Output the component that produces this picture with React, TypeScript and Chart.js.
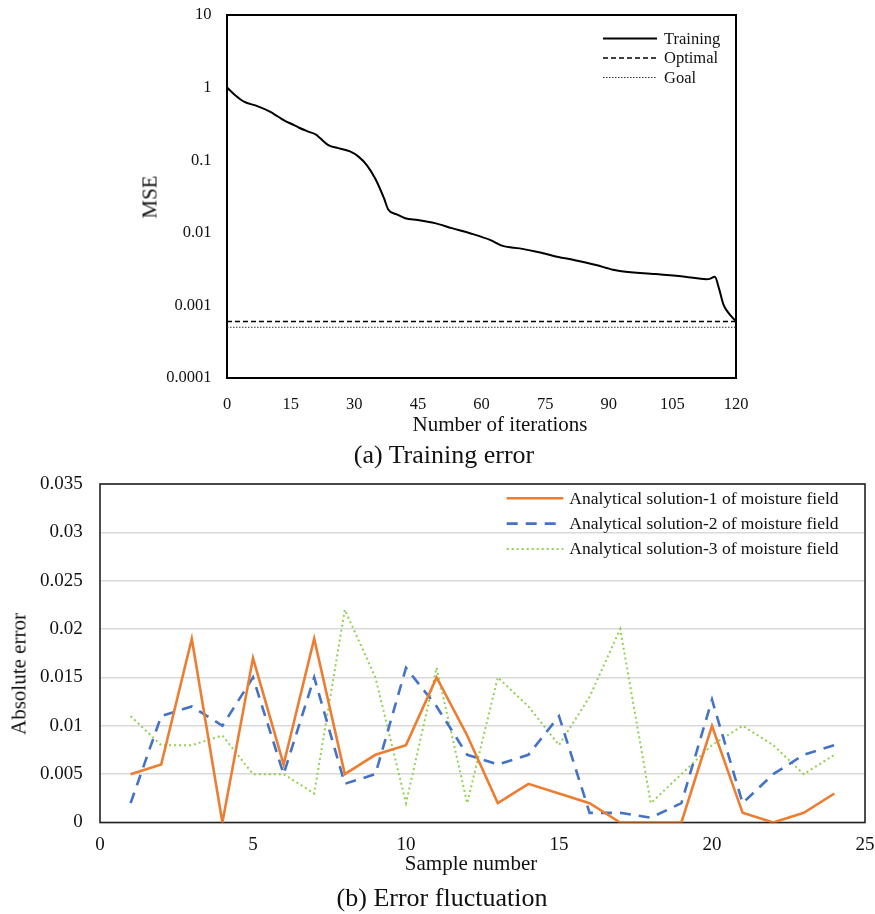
import React, { useEffect, useRef } from "react";
import { Chart, registerables } from "chart.js";

Chart.register(...registerables);

// ---------- (a) Training error ----------
const trainingIterations = [0, 2, 4, 7, 10, 12, 14, 15, 17, 19, 21, 22, 24, 26, 29, 31, 33, 35, 37, 38, 40, 42, 45, 49, 53, 58, 62, 65, 69, 73, 77, 82, 87, 91, 93, 101, 108, 113, 114, 115, 116, 117, 118, 120];
const trainingMse = [1.0, 0.78, 0.64, 0.56, 0.47, 0.4, 0.34, 0.32, 0.28, 0.25, 0.225, 0.2, 0.16, 0.148, 0.132, 0.112, 0.085, 0.055, 0.03, 0.021, 0.018, 0.0159, 0.015, 0.0136, 0.0116, 0.0096, 0.008, 0.0066, 0.0061, 0.0055, 0.0048, 0.0042, 0.0036, 0.0031, 0.00296, 0.0027, 0.00248, 0.00229, 0.00234, 0.00248, 0.0017, 0.00104, 0.00082, 0.0006];
const lineRangeIterations = [0, 120];
const optimalMse = 0.0006;
const goalMse = 0.0005;
const iterationTicks = [0, 15, 30, 45, 60, 75, 90, 105, 120];
const mseTicks = [0.0001, 0.001, 0.01, 0.1, 1, 10];
const mseTickLabels = ["0.0001", "0.001", "0.01", "0.1", "1", "10"];
const topLegendLabels = ["Training", "Optimal", "Goal"];

// ---------- (b) Error fluctuation ----------
const sampleNumbers = [1, 2, 3, 4, 5, 6, 7, 8, 9, 10, 11, 12, 13, 14, 15, 16, 17, 18, 19, 20, 21, 22, 23, 24];
const solution1Error = [0.005, 0.006, 0.019, 0, 0.017, 0.006, 0.019, 0.005, 0.007, 0.008, 0.015, 0.009, 0.002, 0.004, 0.003, 0.002, 0, 0, 0, 0.01, 0.001, 0, 0.001, 0.003];
const solution2Error = [0.002, 0.011, 0.012, 0.01, 0.015, 0.005, 0.015, 0.004, 0.005, 0.016, 0.012, 0.007, 0.006, 0.007, 0.011, 0.001, 0.001, 0.0005, 0.002, 0.0127, 0.002, 0.005, 0.007, 0.008];
const solution3Error = [0.011, 0.008, 0.008, 0.009, 0.005, 0.005, 0.003, 0.022, 0.015, 0.002, 0.016, 0.002, 0.015, 0.012, 0.008, 0.013, 0.02, 0.002, 0.005, 0.008, 0.01, 0.008, 0.005, 0.007];
const sampleTicks = [0, 5, 10, 15, 20, 25];
const errorTicks = [0, 0.005, 0.01, 0.015, 0.02, 0.025, 0.03, 0.035];
const errorTickLabels = ["0", "0.005", "0.01", "0.015", "0.02", "0.025", "0.03", "0.035"];
const bottomLegendLabels = [
  "Analytical solution-1 of moisture field",
  "Analytical solution-2 of moisture field",
  "Analytical solution-3 of moisture field",
];

const SERIF = '"Liberation Serif", "Times New Roman", serif';
const TEXT = "#111";
const CLEAR = "rgba(0,0,0,0)";

function pairs(xs: number[], ys: number[]) {
  return xs.map((x, i) => ({ x, y: ys[i] }));
}

function labelFor(ticks: number[], labels: string[], v: number) {
  let best = -1;
  let bd = Infinity;
  ticks.forEach((t, i) => {
    const d = Math.abs(t - v) / (Math.abs(t) + 1e-12);
    if (d < bd) { bd = d; best = i; }
  });
  if (v === 0 && ticks.includes(0)) return labels[ticks.indexOf(0)];
  return best >= 0 && bd < 1e-6 ? labels[best] : "";
}

function boxPlugin(color: string, width: number) {
  return {
    id: "plotBox",
    beforeDatasetsDraw(chart: any) {
      const { ctx, chartArea: a } = chart;
      ctx.save();
      ctx.strokeStyle = color;
      ctx.lineWidth = width;
      ctx.setLineDash([]);
      ctx.strokeRect(a.left, a.top, a.right - a.left, a.bottom - a.top);
      ctx.restore();
    },
  };
}

function legendPlugin(cfg: { lineStart: number; lineEnd: number; textX: number; rowY: number; rowGap: number; font: number }) {
  return {
    id: "insideLegend",
    afterDatasetsDraw(chart: any) {
      const { ctx, chartArea: a } = chart;
      ctx.save();
      chart.data.datasets.forEach((ds: any, i: number) => {
        const y = a.top + cfg.rowY + i * cfg.rowGap;
        ctx.beginPath();
        ctx.strokeStyle = ds.borderColor;
        ctx.lineWidth = ds.borderWidth;
        ctx.setLineDash(ds.borderDash || []);
        ctx.moveTo(a.right - cfg.lineStart, y);
        ctx.lineTo(a.right - cfg.lineEnd, y);
        ctx.stroke();
        ctx.setLineDash([]);
        ctx.fillStyle = TEXT;
        ctx.font = `${cfg.font}px ${SERIF}`;
        ctx.textBaseline = "middle";
        ctx.textAlign = "left";
        ctx.fillText(ds.label, a.right - cfg.textX, y + 1);
      });
      ctx.restore();
    },
  };
}

function TopChart() {
  const ref = useRef<HTMLCanvasElement | null>(null);
  useEffect(() => {
    if (!ref.current) return;
    const chart = new Chart(ref.current, {
      type: "line",
      data: {
        datasets: [
          {
            label: topLegendLabels[0],
            data: pairs(trainingIterations, trainingMse),
            borderColor: "#000",
            borderWidth: 2,
            pointRadius: 0,
            cubicInterpolationMode: "monotone",
            fill: false,
          },
          {
            label: topLegendLabels[1],
            data: pairs(lineRangeIterations, [optimalMse, optimalMse]),
            borderColor: "#000",
            borderWidth: 1.6,
            borderDash: [5, 3],
            pointRadius: 0,
            fill: false,
          },
          {
            label: topLegendLabels[2],
            data: pairs(lineRangeIterations, [goalMse, goalMse]),
            borderColor: "#333",
            borderWidth: 1.2,
            borderDash: [1.5, 1.5],
            pointRadius: 0,
            fill: false,
          },
        ],
      } as any,
      options: {
        animation: false,
        responsive: false,
        layout: { padding: { left: 0, right: 139, top: 15, bottom: 0 } },
        plugins: { legend: { display: false }, tooltip: { enabled: false }, title: { display: false } },
        scales: {
          x: {
            type: "linear",
            min: 0,
            max: 120,
            grid: { display: false, drawTicks: true, tickLength: 17, tickColor: CLEAR },
            border: { display: false },
            afterBuildTicks: (s: any) => { s.ticks = iterationTicks.map((v) => ({ value: v })); },
            afterFit: (s: any) => { s.height = 62; },
            ticks: {
              autoSkip: false,
              maxRotation: 0,
              padding: 0,
              color: TEXT,
              font: { family: SERIF, size: 16.5 },
              callback: (v: any) => String(v),
            },
          },
          y: {
            type: "logarithmic",
            min: 0.0001,
            max: 10,
            grid: { display: false, drawTicks: true, tickLength: 15.5, tickColor: CLEAR },
            border: { display: false },
            afterBuildTicks: (s: any) => { s.ticks = mseTicks.map((v) => ({ value: v })); },
            afterFit: (s: any) => { s.width = 227; },
            ticks: {
              autoSkip: false,
              padding: 0,
              color: TEXT,
              font: { family: SERIF, size: 16.5 },
              callback: (v: any) => labelFor(mseTicks, mseTickLabels, Number(v)),
            },
          },
        },
      } as any,
      plugins: [
        boxPlugin("#000", 2),
        legendPlugin({ lineStart: 133, lineEnd: 79, textX: 72, rowY: 23.5, rowGap: 19.5, font: 16.5 }),
      ],
    });
    return () => chart.destroy();
  }, []);
  return <canvas ref={ref} width={875} height={440} style={{ position: "absolute", left: 0, top: 0, width: 875, height: 440 }} />;
}

function BottomChart() {
  const ref = useRef<HTMLCanvasElement | null>(null);
  useEffect(() => {
    if (!ref.current) return;
    const chart = new Chart(ref.current, {
      type: "line",
      data: {
        datasets: [
          {
            label: bottomLegendLabels[0],
            data: pairs(sampleNumbers, solution1Error),
            borderColor: "#ED7D31",
            borderWidth: 2.6,
            pointRadius: 0,
            tension: 0,
            fill: false,
          },
          {
            label: bottomLegendLabels[1],
            data: pairs(sampleNumbers, solution2Error),
            borderColor: "#4472C4",
            borderWidth: 2.6,
            borderDash: [11, 8],
            pointRadius: 0,
            tension: 0,
            fill: false,
          },
          {
            label: bottomLegendLabels[2],
            data: pairs(sampleNumbers, solution3Error),
            borderColor: "#92D050",
            borderWidth: 2,
            borderDash: [2, 3],
            pointRadius: 0,
            tension: 0,
            fill: false,
          },
        ],
      } as any,
      options: {
        animation: false,
        responsive: false,
        layout: { padding: { left: 0, right: 10, top: 24, bottom: 0 } },
        plugins: { legend: { display: false }, tooltip: { enabled: false }, title: { display: false } },
        scales: {
          x: {
            type: "linear",
            min: 0,
            max: 25,
            grid: { display: false, drawTicks: true, tickLength: 11, tickColor: CLEAR },
            border: { display: false },
            afterBuildTicks: (s: any) => { s.ticks = sampleTicks.map((v) => ({ value: v })); },
            afterFit: (s: any) => { s.height = 57.5; },
            ticks: {
              autoSkip: false,
              maxRotation: 0,
              padding: 0,
              color: TEXT,
              font: { family: SERIF, size: 19 },
              callback: (v: any) => String(v),
            },
          },
          y: {
            type: "linear",
            min: 0,
            max: 0.035,
            grid: { display: true, drawTicks: true, tickLength: 17.3, tickColor: CLEAR, color: "#d9d9d9", lineWidth: 1.5 },
            border: { display: false },
            afterBuildTicks: (s: any) => { s.ticks = errorTicks.map((v) => ({ value: v })); },
            afterFit: (s: any) => { s.width = 100; },
            ticks: {
              autoSkip: false,
              padding: 0,
              color: TEXT,
              font: { family: SERIF, size: 19 },
              callback: (v: any) => labelFor(errorTicks, errorTickLabels, Number(v)),
            },
          },
        },
      } as any,
      plugins: [
        boxPlugin("#222", 1.6),
        legendPlugin({ lineStart: 358.3, lineEnd: 301.7, textX: 295.7, rowY: 14.3, rowGap: 25.3, font: 17.5 }),
      ],
    });
    return () => chart.destroy();
  }, []);
  return <canvas ref={ref} width={875} height={420} style={{ position: "absolute", left: 0, top: 460, width: 875, height: 420 }} />;
}

function Label(props: { text: string; x: number; y: number; size: number; rotate?: boolean }) {
  return (
    <div
      style={{
        position: "absolute",
        left: props.x,
        top: props.y,
        transform: `translate(-50%, -50%)${props.rotate ? " rotate(-90deg)" : ""}`,
        whiteSpace: "nowrap",
        fontFamily: SERIF,
        fontSize: props.size,
        lineHeight: 1,
        color: TEXT,
      }}
    >
      {props.text}
    </div>
  );
}

export default function App() {
  return (
    <div style={{ position: "absolute", left: 0, top: 0, width: 875, height: 914, background: "#fff", overflow: "hidden" }}>
      <TopChart />
      <BottomChart />
      <Label text="MSE" x={150} y={197} size={21} rotate />
      <Label text="Number of iterations" x={500} y={424} size={21} />
      <Label text="(a) Training error" x={444} y={455} size={26} />
      <Label text="Absolute error" x={19} y={674} size={21} rotate />
      <Label text="Sample number" x={471} y={863} size={21} />
      <Label text="(b) Error fluctuation" x={442} y={898} size={26} />
    </div>
  );
}
